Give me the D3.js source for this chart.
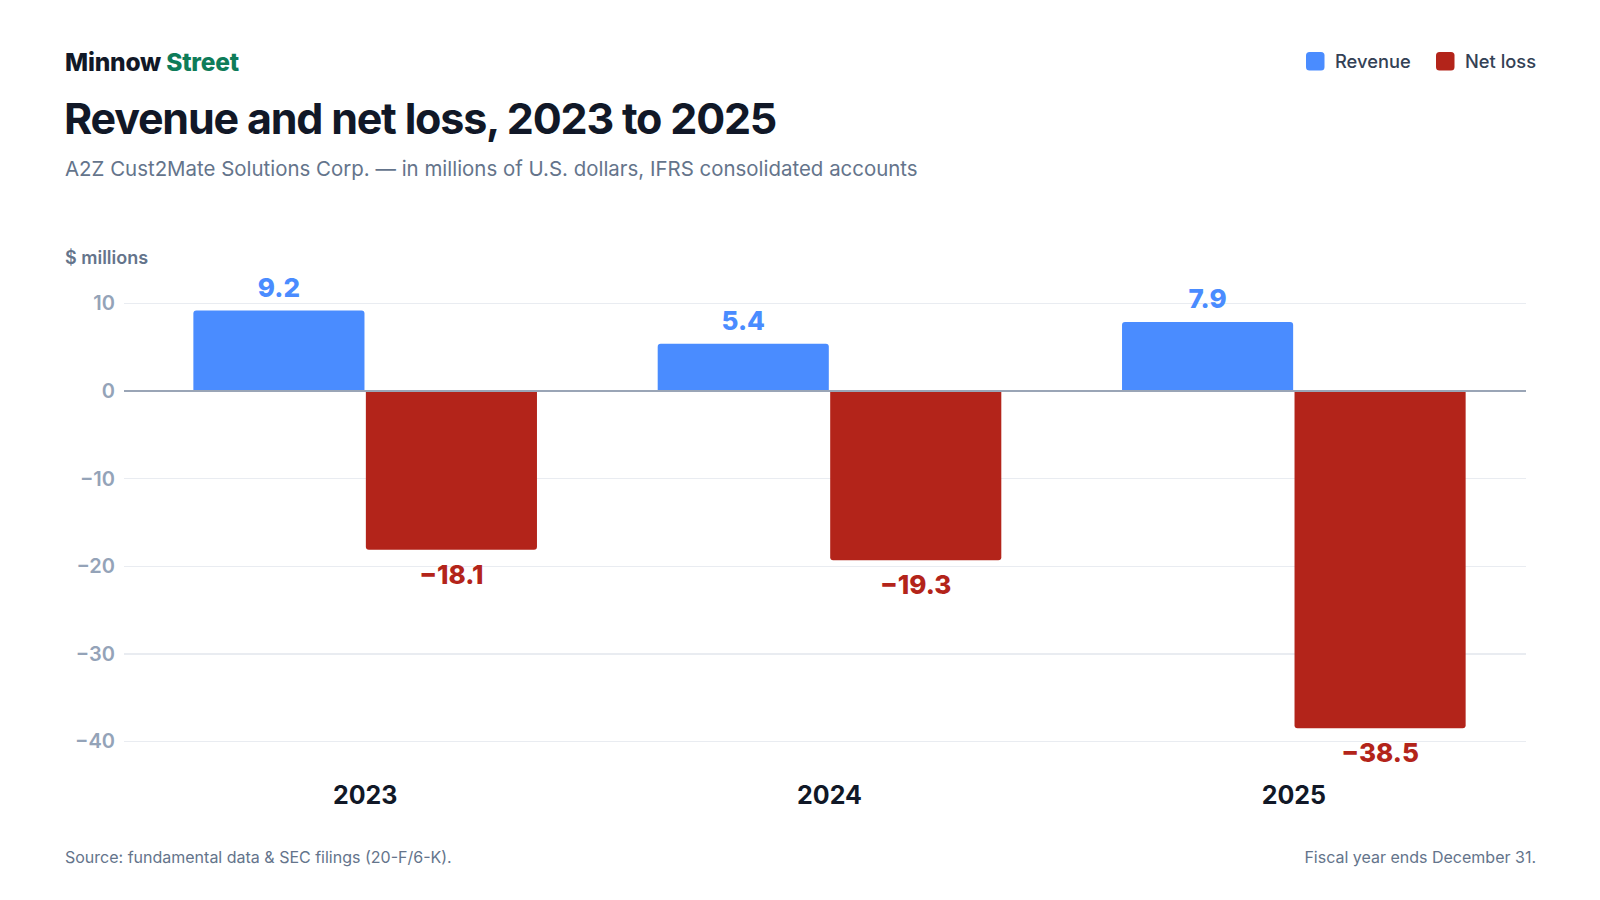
<!DOCTYPE html>
<html>
<head>
<meta charset="utf-8">
<script src="https://cdn.jsdelivr.net/npm/d3@7"></script>
<style>
  html, body { margin: 0; padding: 0; background: #fff; }
  svg { display: block; font-family: Inter, "Noto Sans", sans-serif; }
</style>
</head>
<body>
<div id="chart"></div>
<script>
const WIDTH = 1600;
const HEIGHT = 900;

const years = ["2023", "2024", "2025"];
const seriesNames = ["Revenue", "Net loss"];
const revenue = [9.2, 5.4, 7.9];
const netLoss = [-18.1, -19.3, -38.5];
const yTicks = [10, 0, -10, -20, -30, -40];

const COLORS = { "Revenue": "#4a8cff", "Net loss": "#b3241a" };

const margin = { left: 133, right: 74, top: 303.5, bottom: 158.5 };

let svg = d3.select("#chart").append("svg")
    .attr("width", WIDTH)
    .attr("height", HEIGHT);

// header
let brand = svg.append("text")
    .attr("x", 65).attr("y", 71)
    .attr("font-size", 24.5).attr("font-weight", 800)
    .attr("letter-spacing", "-0.2px");
brand.append("tspan").attr("fill", "#111827").text("Minnow ");
brand.append("tspan").attr("fill", "#0e7c59").text("Street");

svg.append("text")
    .attr("x", 64).attr("y", 134)
    .attr("font-size", 43).attr("font-weight", 700)
    .attr("letter-spacing", "-1.2px")
    .attr("fill", "#111827")
    .text("Revenue and net loss, 2023 to 2025");

svg.append("text")
    .attr("x", 65).attr("y", 176)
    .attr("font-size", 20.45)
    .attr("fill", "#64748b")
    .text("A2Z Cust2Mate Solutions Corp. \u2014 in millions of U.S. dollars, IFRS consolidated accounts");

// legend
let legend = svg.append("g").attr("class", "legend");
let legendX = [1306, 1436];
seriesNames.forEach(function(name, i) {
  let g = legend.append("g").attr("transform", "translate(" + legendX[i] + ",52)");
  g.append("rect")
      .attr("width", 18.5).attr("height", 18.5)
      .attr("rx", 3.5)
      .attr("fill", COLORS[name]);
  g.append("text")
      .attr("x", 29).attr("y", 15.5)
      .attr("font-size", 18.3).attr("font-weight", 500)
      .attr("fill", "#334155")
      .text(name);
});

// scales
let x0 = d3.scaleBand()
    .domain(years)
    .range([margin.left, WIDTH - margin.right])
    .paddingInner(0.26)
    .paddingOuter(0.13);
let x1 = d3.scaleBand()
    .domain(seriesNames)
    .range([0, x0.bandwidth()])
    .paddingInner(0.008);
let y = d3.scaleLinear()
    .domain([-40, 10])
    .range([HEIGHT - margin.bottom, margin.top]);

// y label
svg.append("text")
    .attr("x", 65).attr("y", 264)
    .attr("font-size", 18).attr("font-weight", 600)
    .attr("fill", "#64748b")
    .text("$ millions");

// gridlines
let grid = svg.append("g").attr("class", "gridlines");
grid.selectAll("line").data(yTicks.filter(d => d !== 0)).enter()
  .append("line")
    .attr("x1", 124).attr("x2", WIDTH - margin.right)
    .attr("y1", d => y(d)).attr("y2", d => y(d))
    .attr("stroke", "#e9ecf1")
    .attr("stroke-width", 1.5)
    .attr("shape-rendering", "crispEdges");

// y axis
let yAxis = d3.axisLeft(y)
    .tickValues(yTicks)
    .tickSize(0)
    .tickPadding(0)
    .tickFormat(d => d < 0 ? "\u2212" + Math.abs(d) : String(d));
let yAxisG = svg.append("g")
    .attr("transform", "translate(115,0)")
    .call(yAxis);
yAxisG.select(".domain").remove();
yAxisG.selectAll("text")
    .attr("font-family", "Inter, 'Noto Sans', sans-serif")
    .attr("font-size", 20).attr("font-weight", 600)
    .attr("fill", "#94a3b8");

// bar path with rounded outer end
function barPath(x, w, v) {
  let r = 3;
  let y0 = y(0), y1 = y(v);
  let s = v >= 0 ? 1 : -1;
  return "M" + x + "," + y0 + "V" + (y1 + s * r) + "Q" + x + "," + y1 + " " + (x + r) + "," + y1 +
    "H" + (x + w - r) + "Q" + (x + w) + "," + y1 + " " + (x + w) + "," + (y1 + s * r) + "V" + y0 + "Z";
}

let rows = [];
years.forEach(function(yr, i) {
  rows.push({ year: yr, series: "Revenue", value: revenue[i] });
  rows.push({ year: yr, series: "Net loss", value: netLoss[i] });
});

let barsG = svg.append("g").attr("class", "bars");
barsG.selectAll("path").data(rows).enter()
  .append("path")
    .attr("d", d => barPath(x0(d.year) + x1(d.series), x1.bandwidth(), d.value))
    .attr("fill", d => COLORS[d.series]);

// zero line
svg.append("line")
    .attr("x1", 124).attr("x2", WIDTH - margin.right)
    .attr("y1", y(0)).attr("y2", y(0))
    .attr("stroke", "#9aa5b6")
    .attr("stroke-width", 2);

// value labels
barsG.selectAll("text").data(rows).enter()
  .append("text")
    .attr("x", d => x0(d.year) + x1(d.series) + x1.bandwidth() / 2)
    .attr("y", d => d.value >= 0 ? y(d.value) - 14 : y(d.value) + 34)
    .attr("text-anchor", "middle")
    .attr("font-size", 26).attr("font-weight", 800)
    .attr("fill", d => COLORS[d.series])
    .text(d => d.value < 0 ? "\u2212" + Math.abs(d.value).toFixed(1) : d.value.toFixed(1));

// x axis labels
let xAxis = d3.axisBottom(x0).tickSize(0).tickPadding(0);
let xAxisG = svg.append("g")
    .attr("transform", "translate(0,786)")
    .call(xAxis);
xAxisG.select(".domain").remove();
xAxisG.selectAll("text")
    .attr("dy", null)
    .attr("y", 18)
    .attr("font-family", "Inter, 'Noto Sans', sans-serif")
    .attr("font-size", 25).attr("font-weight", 700)
    .attr("fill", "#111827");

// footer
svg.append("text")
    .attr("x", 65).attr("y", 863)
    .attr("font-size", 16)
    .attr("fill", "#64748b")
    .text("Source: fundamental data & SEC filings (20-F/6-K).");
svg.append("text")
    .attr("x", 1536).attr("y", 863)
    .attr("text-anchor", "end")
    .attr("font-size", 16)
    .attr("fill", "#64748b")
    .text("Fiscal year ends December 31.");
</script>
</body>
</html>
